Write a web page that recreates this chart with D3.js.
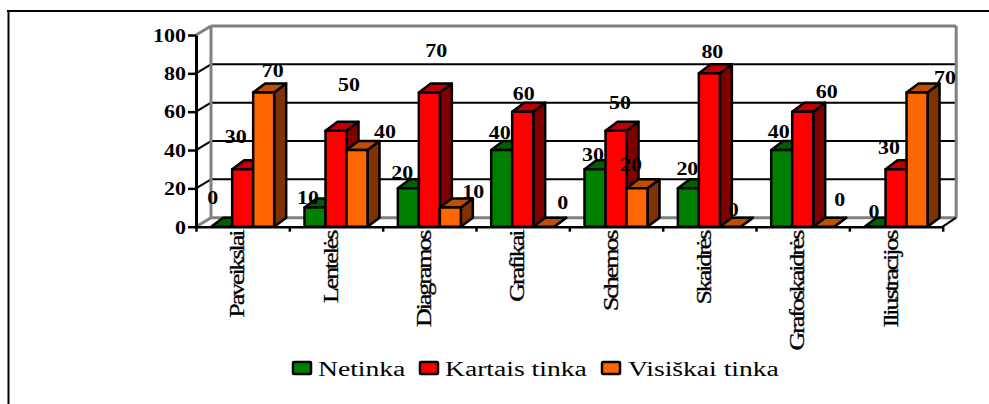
<!DOCTYPE html>
<html>
<head>
<meta charset="utf-8">
<script src="https://cdn.jsdelivr.net/npm/d3@7"></script>
<style>
  html, body { margin: 0; padding: 0; background: #fff; }
  svg { display: block; }
  text { font-family: "Liberation Serif", serif; fill: #000; }
</style>
</head>
<body>
<svg id="chart"></svg>
<script>
const categories = ['Paveikslai', 'Lentelės', 'Diagramos', 'Grafikai', 'Schemos', 'Skaidrės', 'Grafoskaidrės', 'Iliustracijos'];
const seriesNames = ['Netinka', 'Kartais tinka', 'Visiškai tinka'];
const netinka = [0, 10, 20, 40, 30, 20, 40, 0];
const kartaisTinka = [30, 50, 70, 60, 50, 80, 60, 30];
const visiskaiTinka = [70, 40, 10, 0, 20, 0, 0, 70];
const valueTicks = [0, 20, 40, 60, 80, 100];

const WIDTH = 989;
const HEIGHT = 404;
const PLOT = { LEFT: 196, RIGHT: 942.7, TOP: 35, BOTTOM: 226.7 };
const WALL = { DX: 15, DY: -9 };
const BAR = { WIDTH: 21, DX: 12, DY: -9 };
const TEXT_STRETCH = 1.22;
const GREY = '#808080';

const COLORS = {
  Netinka: { front: '#008000', top: '#006000', side: '#004000' },
  'Kartais tinka': { front: '#ff0000', top: '#c00000', side: '#800000' },
  'Visiškai tinka': { front: '#ff6600', top: '#c04d00', side: '#803300' },
};

// the data labels were dragged around by hand in the original, offsets from the bar's top
const LABEL_NUDGE = [
  [[-9, -29], [-7, -32], [9, -22]],
  [[-7, -10], [13, -46], [28, -18]],
  [[-6, -16], [7, -42], [23, -16]],
  [[-2, -17], [1, -18], [19, -24]],
  [[-2, -14], [4, -28], [-6, -24]],
  [[-1, -20], [3, -22], [3, -17]],
  [[-3, -18], [24, -20], [16, -27]],
  [[-1, -15], [-7, -21], [28, -15]],
];

const svg = d3.select('#chart').attr('width', WIDTH).attr('height', HEIGHT);

const x = d3.scaleBand(categories, [PLOT.LEFT, PLOT.RIGHT]);
const xEdges = d3.scaleLinear([0, categories.length], [PLOT.LEFT, PLOT.RIGHT]);
const y = d3.scaleLinear([0, 100], [PLOT.BOTTOM, PLOT.TOP]);
const xSeries = d3.scaleBand(seriesNames, [0, BAR.WIDTH * seriesNames.length]);
const groupOffset = (x.bandwidth() - xSeries.range()[1]) / 2;

const line = (g, x1, y1, x2, y2, color, width) =>
  g.append('line')
    .attr('x1', x1).attr('y1', y1).attr('x2', x2).attr('y2', y2)
    .attr('stroke', color).attr('stroke-width', width);

const drawFrame = () => {
  const g = svg.append('g');
  line(g, 7, 11, WIDTH, 11, '#000', 2);
  line(g, 8.5, 10, 8.5, HEIGHT, '#000', 2);
};

const drawWalls = () => {
  const g = svg.append('g').attr('fill', 'none');
  const backX = PLOT.LEFT + WALL.DX;
  const backRight = PLOT.RIGHT + WALL.DX - 1.5;

  valueTicks.filter((v) => v > 0 && v < 100).forEach((v) => {
    line(g, PLOT.LEFT, y(v), backX, y(v) + WALL.DY, '#000', 2);
    line(g, backX, y(v) + WALL.DY, backRight, y(v) + WALL.DY, '#000', 2);
  });

  line(g, PLOT.LEFT, y(100), backX, y(100) + WALL.DY, GREY, 3);
  line(g, backX, y(100) + WALL.DY, backRight, y(100) + WALL.DY, GREY, 3);
  line(g, backX, y(100) + WALL.DY, backX, y(0) + WALL.DY, GREY, 3);
  line(g, backRight, y(100) + WALL.DY, backRight, y(0) + WALL.DY, GREY, 3);
  line(g, PLOT.LEFT, y(0), backX, y(0) + WALL.DY, GREY, 3);
  line(g, backX, y(0) + WALL.DY, backRight, y(0) + WALL.DY, GREY, 3);
  line(g, PLOT.RIGHT, y(0), backRight, y(0) + WALL.DY, '#000', 2);
};

const drawAxes = () => {
  const yAxis = svg.append('g')
    .attr('transform', `translate(${PLOT.LEFT},0)`)
    .call(d3.axisLeft(y).tickValues(valueTicks).tickSize(8).tickSizeOuter(0));
  yAxis.select('.domain').attr('stroke-width', 3);
  yAxis.selectAll('line').attr('stroke-width', 2.5);
  yAxis.selectAll('text')
    .attr('x', 0)
    .attr('dy', '.35em')
    .attr('transform', `translate(-10,0) scale(${TEXT_STRETCH},1)`)
    .attr('font-family', '"Liberation Serif", serif')
    .attr('font-size', 18)
    .attr('font-weight', 'bold');

  const edgeAxis = svg.append('g')
    .attr('transform', `translate(0,${PLOT.BOTTOM})`)
    .call(d3.axisBottom(xEdges).ticks(categories.length).tickSize(5).tickSizeOuter(0).tickFormat(''));
  edgeAxis.select('.domain').attr('stroke-width', 2.5);
  edgeAxis.selectAll('line').attr('stroke-width', 2.5);

  const labelAxis = svg.append('g')
    .attr('transform', `translate(0,${PLOT.BOTTOM})`)
    .call(d3.axisBottom(x).tickSize(0));
  labelAxis.select('.domain').remove();
  labelAxis.selectAll('text')
    .attr('x', 0)
    .attr('y', 0)
    .attr('dy', 0)
    .attr('text-anchor', 'end')
    .attr('letter-spacing', -1.6)
    .attr('transform', 'translate(1.5,5) rotate(-90) scale(1.3,1)')
    .attr('font-family', '"Liberation Serif", serif')
    .attr('font-size', 20)
    .attr('stroke', '#000')
    .attr('stroke-width', 0.3);
};

const drawBars = (rows) => {
  const bars = svg.append('g').attr('stroke', '#000').attr('stroke-width', 2.5).attr('stroke-linejoin', 'round');

  rows.forEach((d) => {
    const left = x(d.category) + groupOffset + xSeries(d.series);
    const right = left + BAR.WIDTH;
    const top = y(d.value);
    const bottom = y(0);
    const color = COLORS[d.series];
    const g = bars.append('g');

    g.append('polygon')
      .attr('points', [[right, top], [right + BAR.DX, top + BAR.DY], [right + BAR.DX, bottom + BAR.DY], [right, bottom]])
      .attr('fill', color.side);
    g.append('polygon')
      .attr('points', [[left, top], [left + BAR.DX, top + BAR.DY], [right + BAR.DX, top + BAR.DY], [right, top]])
      .attr('fill', color.top);
    if (d.value > 0) {
      g.append('rect')
        .attr('x', left)
        .attr('y', top)
        .attr('width', BAR.WIDTH)
        .attr('height', bottom - top)
        .attr('fill', color.front);
    }
  });
};

const drawLabels = (rows) => {
  svg.append('g')
    .selectAll('text')
    .data(rows)
    .join('text')
    .attr('text-anchor', 'middle')
    .attr('dy', '.35em')
    .attr('font-size', 18)
    .attr('font-weight', 'bold')
    .attr('transform', (d) => {
      const cx = x(d.category) + groupOffset + xSeries(d.series) + BAR.WIDTH / 2;
      const [dx, dy] = LABEL_NUDGE[categories.indexOf(d.category)][seriesNames.indexOf(d.series)];
      return `translate(${cx + dx},${y(d.value) + dy}) scale(${TEXT_STRETCH},1)`;
    })
    .text((d) => d.value);
};

const drawLegend = () => {
  const stretch = 1.38;
  const swatchX = [292, 419, 601];
  const textX = [318, 445, 628];
  const g = svg.append('g');

  seriesNames.forEach((name, i) => {
    g.append('rect')
      .attr('x', swatchX[i] + 1)
      .attr('y', 362)
      .attr('width', 18)
      .attr('height', 12)
      .attr('rx', 1)
      .attr('fill', COLORS[name].front)
      .attr('stroke', '#000')
      .attr('stroke-width', 2.5);
    g.append('text')
      .attr('transform', `translate(${textX[i]},375.5) scale(${stretch},1)`)
      .attr('font-size', 20)
      .text(name);
  });
};

const rows = categories.flatMap((category, i) => [
  { category, series: seriesNames[0], value: netinka[i] },
  { category, series: seriesNames[1], value: kartaisTinka[i] },
  { category, series: seriesNames[2], value: visiskaiTinka[i] },
]);

drawFrame();
drawWalls();
drawAxes();
drawBars(rows);
drawLabels(rows);
drawLegend();
</script>
</body>
</html>
